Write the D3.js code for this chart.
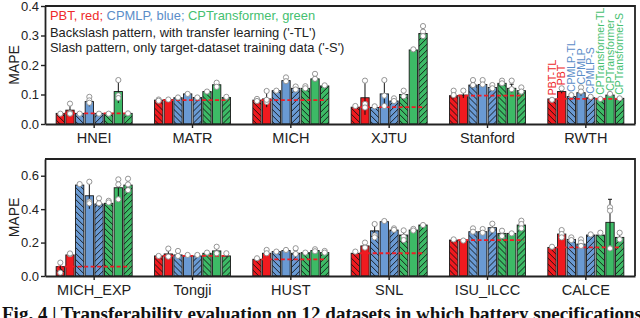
<!DOCTYPE html>
<html>
<head>
<meta charset="utf-8">
<script src="https://cdn.jsdelivr.net/npm/d3@7"></script>
<style>
  body { margin: 0; background: #fff; }
  svg { display: block; font-family: "Liberation Sans", Arial, sans-serif; }
</style>
</head>
<body>
<svg width="640" height="318"></svg>
<script>
// series in each group (order of bars)
var seriesNames = ["PBT-TL", "PBT", "CPMLP-TL", "CPMLP", "CPMLP-S",
    "CPTransformer-TL", "CPTransformer", "CPTransformer-S"];

// top panel
var topGroups = ["HNEI", "MATR", "MICH", "XJTU", "Stanford", "RWTH"];
var topTicks = [0, 0.1, 0.2, 0.3, 0.4];
var topMeans = [
    [0.036, 0.047, 0.036, 0.076, 0.036, 0.036, 0.110, 0.036],
    [0.081, 0.083, 0.089, 0.102, 0.090, 0.110, 0.133, 0.090],
    [0.081, 0.085, 0.113, 0.147, 0.121, 0.121, 0.153, 0.129],
    [0.057, 0.089, 0.056, 0.102, 0.078, 0.100, 0.251, 0.307],
    [0.096, 0.098, 0.132, 0.134, 0.124, 0.138, 0.121, 0.113],
    [0.085, 0.110, 0.093, 0.106, 0.089, 0.087, 0.098, 0.087]
];
var topErrs = [
    [0, 0.023, 0, 0.016, 0, 0, 0.039, 0],
    [0.002, 0.002, 0.002, 0.002, 0.002, 0.002, 0.006, 0.002],
    [0.003, 0.028, 0.002, 0.006, 0.005, 0.004, 0.010, 0.002],
    [0.002, 0.058, 0.002, 0.047, 0.007, 0.012, 0.003, 0.020],
    [0.010, 0.010, 0.010, 0.008, 0.006, 0.006, 0.014, 0.008],
    [0.002, 0.006, 0.004, 0.010, 0.002, 0.002, 0.004, 0.002]
];
var topPoints = [
    [[0.035], [0.069, 0.037, 0.035], [0.035], [0.092, 0.08, 0.072], [0.035], [0.035], [0.149, 0.097, 0.088], [0.036]],
    [[0.083, 0.079], [0.083], [0.09], [0.102], [0.09], [0.11], [0.14, 0.126], [0.092]],
    [[0.085, 0.078], [0.112, 0.075, 0.082], [0.113], [0.158, 0.145], [0.127, 0.117], [0.128, 0.121], [0.17, 0.153], [0.131]],
    [[0.061], [0.147, 0.068, 0.056], [0.06], [0.149, 0.061, 0.096], [0.087, 0.078], [0.113, 0.094], [0.253], [0.332, 0.313, 0.298]],
    [[0.113, 0.098], [0.113], [0.149, 0.132], [0.149, 0.134], [0.132, 0.121], [0.147, 0.138], [0.147, 0.118], [0.124, 0.11]],
    [[0.082], [0.121], [0.098], [0.124, 0.11], [0.092], [0.085], [0.102], [0.087]]
];

// bottom panel
var botGroups = ["MICH_EXP", "Tongji", "HUST", "SNL", "ISU_ILCC", "CALCE"];
var botTicks = [0, 0.2, 0.4, 0.6];
var botMeans = [
    [0.056, 0.126, 0.544, 0.480, 0.431, 0.435, 0.528, 0.544],
    [0.120, 0.132, 0.126, 0.120, 0.120, 0.136, 0.150, 0.120],
    [0.100, 0.136, 0.146, 0.152, 0.136, 0.140, 0.152, 0.140],
    [0.136, 0.180, 0.270, 0.325, 0.275, 0.245, 0.275, 0.305],
    [0.215, 0.215, 0.265, 0.265, 0.289, 0.255, 0.255, 0.305],
    [0.171, 0.251, 0.219, 0.191, 0.245, 0.245, 0.321, 0.231]
];
var botErrs = [
    [0.025, 0.004, 0.004, 0.078, 0.020, 0.008, 0.050, 0.030],
    [0.003, 0.020, 0.012, 0.003, 0.003, 0.003, 0.020, 0.008],
    [0.004, 0.012, 0.003, 0.003, 0.018, 0.003, 0.004, 0.004],
    [0.005, 0.012, 0.045, 0.003, 0.005, 0.030, 0.004, 0.003],
    [0.003, 0.002, 0.010, 0.008, 0.020, 0.016, 0.002, 0.020],
    [0.003, 0.020, 0.008, 0.012, 0.003, 0.004, 0.138, 0.018]
];
var botPoints = [
    [[0.08, 0.02], [0.13, 0.135], [0.55], [0.564, 0.445, 0.435], [0.465, 0.435], [0.45, 0.44], [0.578, 0.548, 0.459], [0.582, 0.548, 0.514]],
    [[0.12], [0.164, 0.116], [0.15, 0.12], [0.126], [0.126], [0.14], [0.175, 0.136], [0.136]],
    [[0.106], [0.156, 0.136], [0.146], [0.156], [0.166, 0.132], [0.14], [0.16, 0.148], [0.15, 0.14]],
    [[0.146], [0.2, 0.17], [0.311, 0.243, 0.231], [0.329], [0.285, 0.276], [0.273, 0.235, 0.215], [0.282, 0.272], [0.305]],
    [[0.219], [0.212], [0.285, 0.265], [0.281, 0.259], [0.313, 0.275], [0.271, 0.239], [0.255], [0.331, 0.311, 0.285]],
    [[0.175], [0.275, 0.251, 0.231], [0.231, 0.215], [0.219, 0.201, 0.18], [0.249], [0.259], [0.411, 0.391, 0.165], [0.259, 0.219]]
];

var colors = {PBT: "#f01a1f", CPMLP: "#6a9ad3", CPTransformer: "#3dba66"};
var textColors = {PBT: "#ee2a2a", CPMLP: "#5b8dc8", CPTransformer: "#45c070"};

var svg = d3.select("svg");
var left = 45, right = 635;

// hatch patterns
var defs = svg.append("defs");
function hatch(id, d) {
    defs.append("pattern")
        .attr("id", id)
        .attr("patternUnits", "userSpaceOnUse")
        .attr("width", 6).attr("height", 6)
        .append("path")
        .attr("d", d)
        .style("stroke", "#111")
        .style("stroke-width", 0.9);
}
hatch("back", "M0,0L6,6M-1,5L1,7M5,-1L7,1");
hatch("fwd", "M0,6L6,0M-1,1L1,-1M5,7L7,5");

function model(name) { return name.split("-")[0]; }
function pattern(name) {
    if (/-TL$/.test(name)) return "url(#back)";
    if (/-S$/.test(name)) return "url(#fwd)";
    return null;
}

function drawPanel(groups, means, errs, points, ticks, yMax, top, bottom, labelGroup) {
    var x0 = d3.scaleBand().domain(groups).range([left, right])
        .paddingInner(0.227).paddingOuter(0.1135);
    var x1 = d3.scaleBand().domain(seriesNames).range([0, x0.bandwidth()])
        .paddingInner(0.14);
    var y = d3.scaleLinear().domain([0, yMax]).range([bottom, top]);

    var g = svg.append("g");

    groups.forEach(function (grp, gi) {
        var gg = g.append("g").attr("transform", "translate(" + x0(grp) + ",0)");
        var rows = seriesNames.map(function (s, si) {
            return {name: s, mean: means[gi][si], err: errs[gi][si], pts: points[gi][si]};
        });

        gg.selectAll(".bar").data(rows).enter().append("rect")
            .attr("x", function (d) { return x1(d.name); })
            .attr("y", function (d) { return y(d.mean); })
            .attr("width", x1.bandwidth())
            .attr("height", function (d) { return y(0) - y(d.mean); })
            .style("fill", function (d) { return colors[model(d.name)]; });

        gg.selectAll(".hatch").data(rows.filter(function (d) { return pattern(d.name); }))
            .enter().append("rect")
            .attr("x", function (d) { return x1(d.name); })
            .attr("y", function (d) { return y(d.mean); })
            .attr("width", x1.bandwidth())
            .attr("height", function (d) { return y(0) - y(d.mean); })
            .style("fill", function (d) { return pattern(d.name); });

        gg.selectAll(".outline").data(rows).enter().append("rect")
            .attr("x", function (d) { return x1(d.name); })
            .attr("y", function (d) { return y(d.mean); })
            .attr("width", x1.bandwidth())
            .attr("height", function (d) { return y(0) - y(d.mean); })
            .style("fill", "none")
            .style("stroke", "#1a1a1a")
            .style("stroke-width", 0.9);

        // red dashed reference at the PBT-TL value
        gg.append("line")
            .attr("x1", x1(seriesNames[0]) + 2)
            .attr("x2", x1(seriesNames[seriesNames.length - 1]) + x1.bandwidth() - 2)
            .attr("y1", y(rows[0].mean))
            .attr("y2", y(rows[0].mean))
            .style("stroke", "#ee1c24")
            .style("stroke-width", 1.8)
            .style("stroke-dasharray", "4,2.5");

        // error bars
        var eb = gg.selectAll(".err").data(rows.filter(function (d) { return d.err > 0.004; }))
            .enter().append("g");
        eb.append("line")
            .attr("x1", function (d) { return x1(d.name) + x1.bandwidth() / 2; })
            .attr("x2", function (d) { return x1(d.name) + x1.bandwidth() / 2; })
            .attr("y1", function (d) { return y(d.mean - d.err); })
            .attr("y2", function (d) { return y(d.mean + d.err); })
            .style("stroke", "#111").style("stroke-width", 1);
        eb.append("line")
            .attr("x1", function (d) { return x1(d.name) + x1.bandwidth() / 2 - 2; })
            .attr("x2", function (d) { return x1(d.name) + x1.bandwidth() / 2 + 2; })
            .attr("y1", function (d) { return y(d.mean + d.err); })
            .attr("y2", function (d) { return y(d.mean + d.err); })
            .style("stroke", "#111").style("stroke-width", 1);

        // individual points
        rows.forEach(function (d) {
            gg.selectAll(null).data(d.pts).enter().append("circle")
                .attr("cx", x1(d.name) + x1.bandwidth() / 2)
                .attr("cy", function (v) { return y(v); })
                .attr("r", 2.6)
                .style("fill", "#fff")
                .style("stroke", "#8a8a8a")
                .style("stroke-width", 0.9);
        });

        // vertical series labels above one group
        if (grp === labelGroup) {
            gg.selectAll(".lab").data(rows).enter().append("text")
                .attr("transform", function (d) {
                    var topV = Math.max(d.mean + d.err, d3.max(d.pts));
                    return "translate(" + (x1(d.name) + x1.bandwidth() / 2) + "," + (y(topV) - 3) + ")rotate(-90)";
                })
                .attr("dy", "0.36em")
                .style("font-size", "10.5px")
                .style("fill", function (d) { return textColors[model(d.name)]; })
                .text(function (d) { return d.name; });
        }
    });

    // axes
    var ya = svg.append("g")
        .attr("transform", "translate(" + left + ",0)")
        .call(d3.axisLeft(y).tickValues(ticks).tickFormat(d3.format(".1f")).tickSize(4).tickSizeOuter(0));
    var xa = svg.append("g")
        .attr("transform", "translate(0," + bottom + ")")
        .call(d3.axisBottom(x0).tickSize(4).tickSizeOuter(0));
    [ya, xa].forEach(function (a) {
        a.select(".domain").style("stroke", "#222").style("stroke-width", 1.8);
        a.selectAll(".tick line").style("stroke", "#222").style("stroke-width", 1.4);
        a.selectAll("text").style("font-family", "Liberation Sans, Arial, sans-serif").style("fill", "#222");
    });
    ya.selectAll("text").style("font-size", "13px").attr("x", -6);
    xa.selectAll("text").style("font-size", "14.5px").attr("y", 9);

    // frame top and right
    svg.append("path")
        .attr("d", "M" + left + "," + top + "H" + right + "V" + bottom)
        .style("fill", "none").style("stroke", "#222").style("stroke-width", 1.8);

    svg.append("text")
        .attr("transform", "translate(19," + ((top + bottom) / 2) + ")rotate(-90)")
        .attr("text-anchor", "middle")
        .style("font-size", "14px")
        .style("fill", "#222")
        .text("MAPE");

    return y;
}

drawPanel(topGroups, topMeans, topErrs, topPoints, topTicks, 0.4, 6, 124, "RWTH");
drawPanel(botGroups, botMeans, botErrs, botPoints, botTicks, 0.7, 159, 276, null);

// legend text
var leg = svg.append("text").attr("x", 50).attr("y", 20).style("font-size", "12.9px");
leg.append("tspan").style("fill", textColors.PBT).text("PBT, red; ");
leg.append("tspan").style("fill", textColors.CPMLP).text("CPMLP, blue; ");
leg.append("tspan").style("fill", textColors.CPTransformer).text("CPTransformer, green");
svg.append("text").attr("x", 50).attr("y", 36.5).style("font-size", "12.9px").style("fill", "#222")
    .text("Backslash pattern, with transfer learning ('-TL')");
svg.append("text").attr("x", 50).attr("y", 52).style("font-size", "12.9px").style("fill", "#222")
    .text("Slash pattern, only target-dataset training data ('-S')");

// figure caption, cut by the bottom edge as in the source page
svg.append("text")
    .attr("x", 2).attr("y", 320)
    .style("font-family", "Liberation Serif, Times New Roman, serif")
    .style("font-weight", "bold")
    .style("font-size", "19px")
    .style("fill", "#111")
    .text("Fig. 4 | Transferability evaluation on 12 datasets in which battery specifications");
</script>
</body>
</html>
